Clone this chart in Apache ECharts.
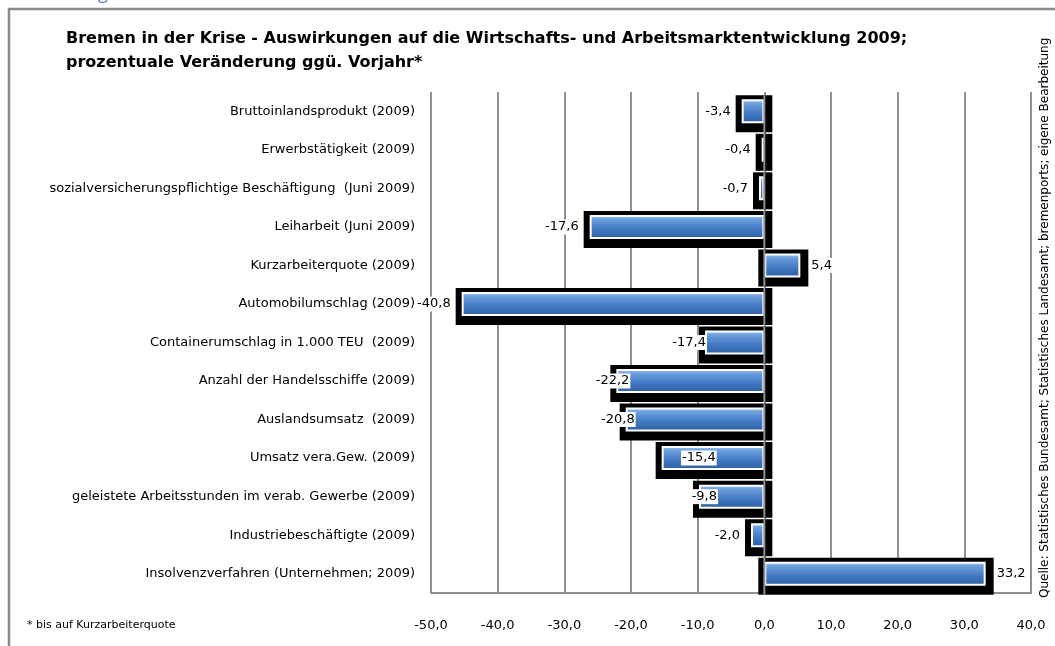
<!DOCTYPE html>
<html>
<head>
<meta charset="utf-8">
<title>Bremen in der Krise</title>
<script src="https://cdn.jsdelivr.net/npm/echarts@6/dist/echarts.min.js"></script>
<style>
  html, body { margin: 0; padding: 0; background: #fff; }
  #chart { width: 1055px; height: 646px; }
</style>
</head>
<body>
<div id="chart"></div>
<script>
// Kategorien (von oben nach unten)
const categories = [
  "Bruttoinlandsprodukt (2009)",
  "Erwerbstätigkeit (2009)",
  "sozialversicherungspflichtige Beschäftigung  (Juni 2009)",
  "Leiharbeit (Juni 2009)",
  "Kurzarbeiterquote (2009)",
  "Automobilumschlag (2009)",
  "Containerumschlag in 1.000 TEU  (2009)",
  "Anzahl der Handelsschiffe (2009)",
  "Auslandsumsatz  (2009)",
  "Umsatz vera.Gew. (2009)",
  "geleistete Arbeitsstunden im verab. Gewerbe (2009)",
  "Industriebeschäftigte (2009)",
  "Insolvenzverfahren (Unternehmen; 2009)",
];
// Balkenlängen, wie im Bild gezeichnet
const barValues = [-3.4, -0.4, -0.8, -26.2, 5.4, -45.4, -8.9, -22.2, -20.8, -15.4, -9.8, -2.0, 33.2];
// gedruckte Datenbeschriftungen
const labelValues = [-3.4, -0.4, -0.7, -17.6, 5.4, -40.8, -17.4, -22.2, -20.8, -15.4, -9.8, -2.0, 33.2];
// Achsenbeschriftung
const tickValues = [-50, -40, -30, -20, -10, 0, 10, 20, 30, 40];

// horizontale Verschiebung einzelner Beschriftungen (px)
const labelShift = [0, 0, 0, 0, 0, 0, 12, 24, 20, 65, 29, 0, 0];

const fmt = (v) => v.toFixed(1).replace(".", ",");
const font = "DejaVu Sans";
const barW = 24;
const gridGrey = "#8f8f8f";

const chart = echarts.init(document.getElementById("chart"));

const frontData = barValues.map((v, i) => ({
  value: v,
  label: {
    position: v < 0 ? "left" : "right",
    offset: [labelShift[i], 0],
  },
}));

// Ausdehnung des schwarzen Rahmens um einen Balken
function backdropBox(api) {
  const v = api.value(0);
  const idx = api.value(1);
  const a = api.coord([0, idx]);
  const b = api.coord([v, idx]);
  return {
    zeroX: a[0],
    x1: Math.min(a[0], b[0]) - 6,
    x2: Math.max(a[0], b[0]) + 8,
    y1: a[1] - barW / 2 - 4,
    y2: a[1] + barW / 2 + 9,
  };
}

function renderBackdrop(params, api) {
  const r = backdropBox(api);
  return {
    type: "rect",
    shape: { x: r.x1, y: r.y1, width: r.x2 - r.x1, height: r.y2 - r.y1 },
    style: { fill: "#000" },
  };
}

// Nulllinie über Rahmen und Balken
function renderZero(params, api) {
  const r = backdropBox(api);
  return {
    type: "line",
    shape: { x1: r.zeroX, y1: r.y1, x2: r.zeroX, y2: r.y2 },
    style: { stroke: gridGrey, lineWidth: 2 },
  };
}

const customData = barValues.map((v, i) => [v, i]);

chart.setOption({
  animation: false,
  grid: { left: 431, right: 24, top: 92, bottom: 53 },
  xAxis: {
    type: "value",
    min: tickValues[0],
    max: tickValues[tickValues.length - 1],
    interval: 10,
    axisLine: { show: true, onZero: false, lineStyle: { color: gridGrey, width: 2 } },
    axisTick: { show: false },
    splitLine: { show: true, lineStyle: { color: gridGrey, width: 2 } },
    axisLabel: {
      margin: 26,
      fontFamily: font,
      fontSize: 13,
      color: "#000",
      formatter: (v) => fmt(v),
    },
  },
  yAxis: {
    type: "category",
    inverse: true,
    data: categories,
    axisLine: { show: false },
    axisTick: { show: false },
    axisLabel: {
      margin: 16,
      fontFamily: font,
      fontSize: 13,
      color: "#000",
    },
  },
  series: [
    {
      type: "custom",
      renderItem: renderBackdrop,
      data: customData,
      encode: { x: 0, y: 1 },
      silent: true,
      z: 1,
    },
    {
      type: "bar",
      data: frontData,
      barWidth: barW,
      z: 2,
      itemStyle: {
        color: new echarts.graphic.LinearGradient(0, 0, 0, 1, [
          { offset: 0, color: "#a9cbf2" },
          { offset: 0.18, color: "#6c9fdd" },
          { offset: 0.6, color: "#4178c3" },
          { offset: 1, color: "#2c5d9f" },
        ]),
        borderColor: "#fff",
        borderWidth: 2,
      },
      label: {
        show: true,
        distance: 10,
        fontFamily: font,
        fontSize: 13,
        color: "#000",
        backgroundColor: "#fff",
        padding: [1, 1],
        formatter: (p) => fmt(labelValues[p.dataIndex]),
      },
    },
    {
      type: "custom",
      renderItem: renderZero,
      data: customData,
      encode: { x: 0, y: 1 },
      silent: true,
      z: 3,
    },
  ],
  graphic: [
    {
      type: "rect",
      shape: { x: 9, y: 9, width: 1200, height: 800 },
      style: { fill: "none", stroke: "#8a8a8a", lineWidth: 2.5 },
      z: -10,
    },
    {
      type: "text",
      x: 98,
      y: 3,
      style: {
        text: "g",
        fill: "#4f81bd",
        font: "18px 'Open Sans'",
        textVerticalAlign: "bottom",
      },
    },
    {
      type: "text",
      x: 66,
      y: 27,
      style: {
        text: "Bremen in der Krise - Auswirkungen auf die Wirtschafts- und Arbeitsmarktentwicklung 2009;\nprozentuale Veränderung ggü. Vorjahr*",
        fill: "#000",
        font: "bold 16px 'DejaVu Sans'",
        lineHeight: 24,
      },
    },
    {
      type: "text",
      x: 27,
      y: 625,
      style: {
        text: "* bis auf Kurzarbeiterquote",
        fill: "#000",
        font: "11px 'DejaVu Sans'",
        textVerticalAlign: "middle",
      },
    },
    {
      type: "text",
      x: 1045,
      y: 598,
      rotation: Math.PI / 2,
      style: {
        text: "Quelle: Statistisches Bundesamt; Statistisches Landesamt; bremenports; eigene Bearbeitung",
        fill: "#000",
        font: "12px 'DejaVu Sans'",
        textVerticalAlign: "middle",
      },
    },
  ],
});
</script>
</body>
</html>
